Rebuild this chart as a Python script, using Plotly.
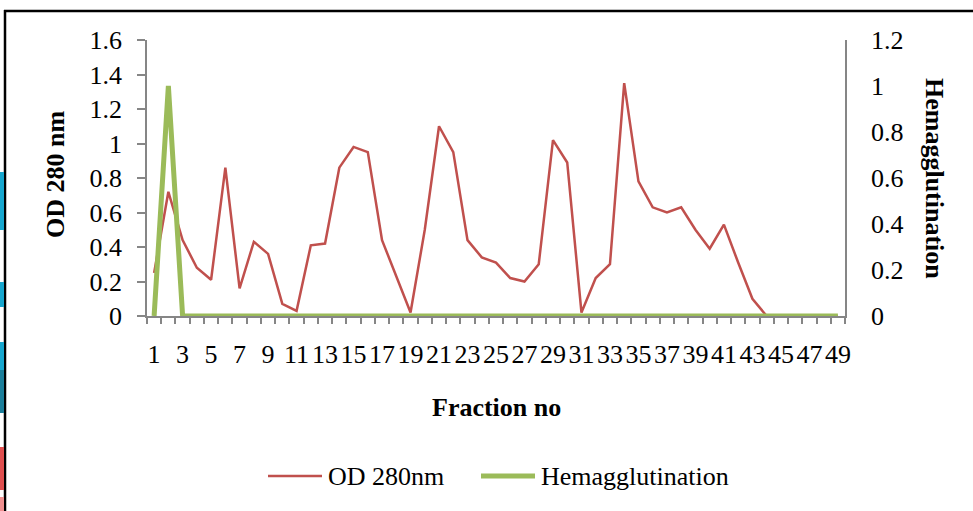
import plotly.graph_objects as go

fractions = list(range(1, 50))
od280 = [0.25, 0.72, 0.44, 0.28, 0.21, 0.86, 0.16, 0.43, 0.36, 0.07,
         0.03, 0.41, 0.42, 0.86, 0.98, 0.95, 0.44, 0.23, 0.02, 0.50,
         1.10, 0.95, 0.44, 0.34, 0.31, 0.22, 0.20, 0.30, 1.02, 0.89,
         0.02, 0.22, 0.30, 1.35, 0.78, 0.63, 0.60, 0.63, 0.50, 0.39,
         0.53, 0.31, 0.10, 0.0, 0.0, 0.0, 0.0, 0.0, 0.0]
hemagglutination = [0, 1] + [0] * 47
x_ticks = list(range(1, 50, 2))
y1_ticks = [0, 0.2, 0.4, 0.6, 0.8, 1, 1.2, 1.4, 1.6]
y2_ticks = [0, 0.2, 0.4, 0.6, 0.8, 1, 1.2]

FONT = "Liberation Serif"
RED = "#C0504D"
GREEN = "#9BBB59"
AX = "#868686"

fig = go.Figure()
fig.add_trace(go.Scatter(x=fractions, y=od280, mode="lines", name="OD 280nm",
                         line=dict(color=RED, width=2.5), yaxis="y"))
fig.add_trace(go.Scatter(x=fractions, y=hemagglutination, mode="lines", name="Hemagglutination",
                         line=dict(color=GREEN, width=5), yaxis="y2"))

W, H = 973, 511
L, R, T, B = 147, 128, 40, 195
pw, ph = W - L - R, H - T - B

def px(x):
    return (x - L) / pw

def py(y):
    return (H - B - y) / ph

fig.update_layout(
    width=W, height=H,
    margin=dict(l=L, r=R, t=T, b=B),
    paper_bgcolor="white", plot_bgcolor="white",
    font=dict(family=FONT, size=26, color="black"),
    showlegend=False,
    xaxis=dict(range=[0.5, 49.5], tickmode="array", tickvals=x_ticks,
               ticktext=[str(v) for v in x_ticks], ticks="", showgrid=False,
               showline=True, linecolor=AX, linewidth=1.5, zeroline=False,
               ticklabelstandoff=14,
               minor=dict(tickmode="linear", tick0=0.5, dtick=1, ticks="outside",
                          ticklen=6, tickcolor=AX, tickwidth=1.5, showgrid=False)),
    yaxis=dict(range=[0, 1.6], tickmode="array", tickvals=y1_ticks, ticks="outside",
               ticklen=8, tickcolor=AX, tickwidth=1.5, showgrid=False,
               showline=True, linecolor=AX, linewidth=1.5, zeroline=False,
               ticklabelstandoff=10),
    yaxis2=dict(range=[0, 1.2], tickmode="array", tickvals=y2_ticks, overlaying="y",
                side="right", ticks="", showgrid=False, showline=True,
                linecolor=AX, linewidth=1.5, zeroline=False, ticklabelstandoff=19),
)

fig.add_annotation(text="<b>OD 280 nm</b>", xref="paper", yref="paper",
                   x=px(55), y=py(175), textangle=-90, showarrow=False,
                   font=dict(family=FONT, size=26), xanchor="center", yanchor="middle")
fig.add_annotation(text="<b>Hemagglutination</b>", xref="paper", yref="paper",
                   x=px(935), y=py(178), textangle=90, showarrow=False,
                   font=dict(family=FONT, size=26), xanchor="center", yanchor="middle")
fig.add_annotation(text="<b>Fraction no</b>", xref="paper", yref="paper",
                   x=px(496), y=py(407), showarrow=False,
                   font=dict(family=FONT, size=26), xanchor="center", yanchor="middle")

# legend (drawn manually to match the original's long sample lines)
legend_items = [("OD 280nm", RED, 2.5, 268), ("Hemagglutination", GREEN, 5, 481)]
for label, color, lw, x0 in legend_items:
    fig.add_shape(type="line", xref="paper", yref="paper", x0=px(x0), x1=px(x0 + 54),
                  y0=py(476), y1=py(476), line=dict(color=color, width=lw))
    fig.add_annotation(text=label, xref="paper", yref="paper", x=px(x0 + 58), y=py(476),
                       showarrow=False, xanchor="left", yanchor="middle",
                       font=dict(family=FONT, size=26))

# page border of the embedded chart
fig.add_shape(type="line", xref="paper", yref="paper", x0=px(4), x1=px(973),
              y0=py(11), y1=py(11), line=dict(color="black", width=2.5))
fig.add_shape(type="line", xref="paper", yref="paper", x0=px(5), x1=px(5),
              y0=py(10), y1=py(511), line=dict(color="black", width=2.5))

# coloured fragments at the page's left edge
strips = [(172, 230, "#16A6CE"), (282, 307, "#16A6CE"), (342, 370, "#16A6CE"),
          (370, 413, "#1A7E9A"), (447, 490, "#E04F4F"), (497, 511, "#F09090")]
for y0, y1, c in strips:
    fig.add_shape(type="rect", xref="paper", yref="paper", x0=px(0), x1=px(4),
                  y0=py(y1), y1=py(y0), line=dict(width=0), fillcolor=c)

fig.write_html("out.html")
